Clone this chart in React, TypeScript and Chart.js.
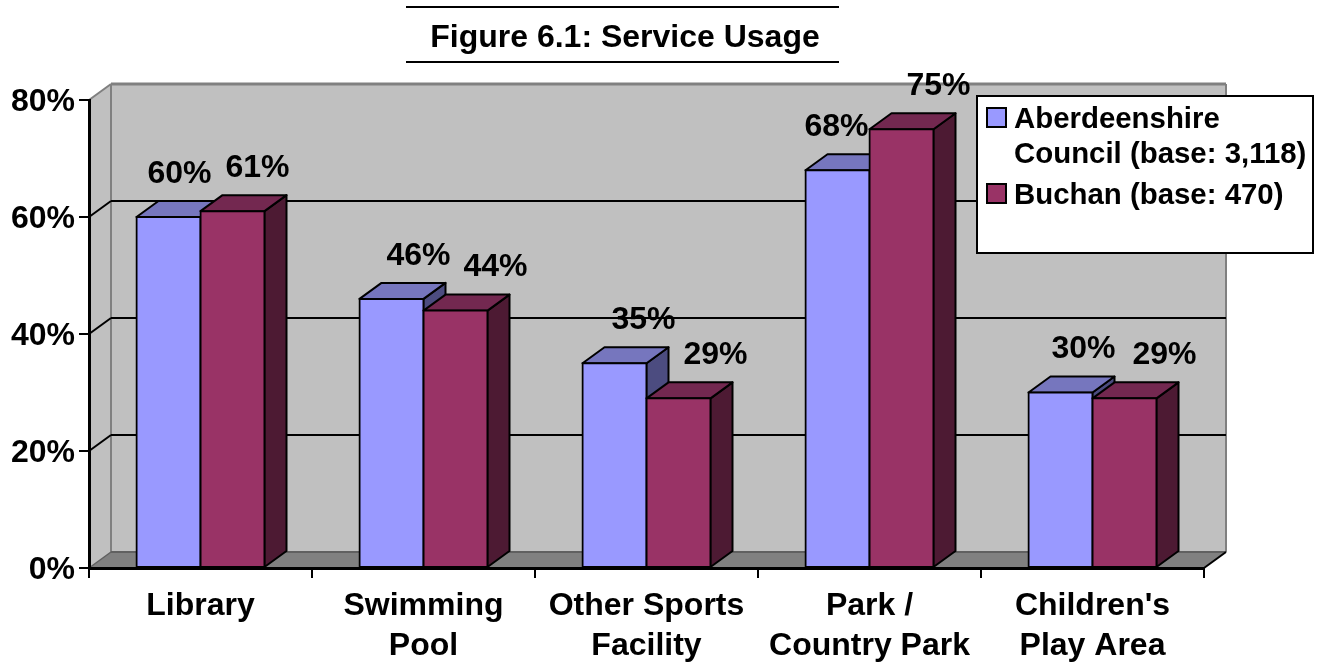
import React, { useEffect, useRef } from "react";
import { Chart, registerables } from "chart.js";

Chart.register(...registerables);

const categories = [
  ["Library"],
  ["Swimming", "Pool"],
  ["Other Sports", "Facility"],
  ["Park /", "Country Park"],
  ["Children's", "Play Area"],
];
const aberdeenshire = [60, 46, 35, 68, 30];
const buchan = [61, 44, 29, 75, 29];
const aberdeenshireLabel = ["Aberdeenshire", "Council (base: 3,118)"];
const buchanLabel = ["Buchan (base: 470)"];
const titleText = "Figure 6.1: Service Usage";
const yTicks = [0, 20, 40, 60, 80];

const FONT = '"Liberation Sans", Arial, sans-serif';
const DX = 22;
const DY = -16;
// hand placed horizontal nudges of the value labels, as in the original
const labelNudge = [
  [11, 27, 29, -1, 23],
  [25, 40, 37, 37, 40],
];
const shade = [
  { top: "#7676BE", side: "#4C4C80" },
  { top: "#732850", side: "#4D1A33" },
];

function poly(ctx: CanvasRenderingContext2D, pts: number[][], fill?: string, stroke?: string, lw = 2) {
  ctx.beginPath();
  pts.forEach((p, i) => (i ? ctx.lineTo(p[0], p[1]) : ctx.moveTo(p[0], p[1])));
  ctx.closePath();
  if (fill) {
    ctx.fillStyle = fill;
    ctx.fill();
  }
  if (stroke) {
    ctx.strokeStyle = stroke;
    ctx.lineWidth = lw;
    ctx.stroke();
  }
}
function seg(ctx: CanvasRenderingContext2D, x1: number, y1: number, x2: number, y2: number, color: string, lw = 2) {
  ctx.beginPath();
  ctx.moveTo(x1, y1);
  ctx.lineTo(x2, y2);
  ctx.strokeStyle = color;
  ctx.lineWidth = lw;
  ctx.stroke();
}

const threeD = {
  id: "threeD",
  beforeDraw(chart: any) {
    const { ctx, chartArea: a, scales } = chart;
    const { left: l, right: r, top: t, bottom: b } = a;
    ctx.save();
    ctx.lineJoin = "round";
    // walls and floor
    poly(ctx, [[l, b], [l + DX, b + DY], [l + DX, t + DY], [l, t]], "#C0C0C0");
    poly(ctx, [[l + DX, t + DY], [r + DX, t + DY], [r + DX, b + DY], [l + DX, b + DY]], "#C0C0C0");
    poly(ctx, [[l, b], [l + DX, b + DY], [r + DX, b + DY], [r, b]], "#808080");
    // wall outline
    seg(ctx, l, t, l + DX, t + DY, "#808080", 2);
    seg(ctx, l + DX, t + DY, r + DX, t + DY, "#808080", 3);
    seg(ctx, l + DX, t + DY, l + DX, b + DY, "#808080", 2);
    seg(ctx, r + DX, t + DY, r + DX, b + DY, "#808080", 2);
    seg(ctx, l + DX, b + DY, r + DX, b + DY, "#606060", 2);
    seg(ctx, l, b, l + DX, b + DY, "#606060", 1.5);
    seg(ctx, r, b, r + DX, b + DY, "#000000", 2);
    // gridlines carried across the side wall and the back wall
    yTicks.slice(1, -1).forEach((v) => {
      const y = scales.y.getPixelForValue(v);
      seg(ctx, l, y, l + DX, y + DY, "#000000", 2);
      seg(ctx, l + DX, y + DY, r + DX, y + DY, "#000000", 2);
    });
    ctx.restore();
  },
  // Series are painted left to right, each with its side and top faces first,
  // so that the right bar of a pair covers the side of the left bar.
  beforeDatasetsDraw(chart: any) {
    const { ctx } = chart;
    chart.data.datasets.forEach((_: any, index: number) => {
      const meta = chart.getDatasetMeta(index);
      const colors = shade[index];
      ctx.save();
      ctx.lineJoin = "round";
      meta.data.forEach((bar: any) => {
        const { x, y, width, base } = bar.getProps(["x", "y", "width", "base"], true);
        const x0 = x - width / 2;
        const x1 = x + width / 2;
        poly(ctx, [[x1, y], [x1 + DX, y + DY], [x1 + DX, base + DY], [x1, base]], colors.side, "#000000");
        poly(ctx, [[x0, y], [x0 + DX, y + DY], [x1 + DX, y + DY], [x1, y]], colors.top, "#000000");
      });
      ctx.restore();
      meta.controller.draw();
    });
  },
  beforeDatasetDraw() {
    return false;
  },
  afterDatasetsDraw(chart: any) {
    const { ctx } = chart;
    ctx.save();
    ctx.fillStyle = "#000000";
    ctx.textAlign = "center";
    ctx.textBaseline = "middle";
    ctx.font = `bold 32px ${FONT}`;
    chart.data.datasets.forEach((ds: any, i: number) => {
      chart.getDatasetMeta(i).data.forEach((bar: any, j: number) => {
        ctx.fillText(`${ds.data[j]}%`, bar.x + labelNudge[i][j], bar.y - 43);
      });
    });
    ctx.restore();
  },
  afterDraw(chart: any) {
    const { ctx } = chart;
    ctx.save();
    // title with its rules
    seg(ctx, 406, 7, 839, 7, "#000000", 2);
    seg(ctx, 406, 62, 839, 62, "#000000", 2);
    ctx.fillStyle = "#000000";
    ctx.font = `bold 32px ${FONT}`;
    ctx.textAlign = "center";
    ctx.textBaseline = "middle";
    ctx.fillText(titleText, 625, 38);
    // legend
    ctx.fillStyle = "#FFFFFF";
    ctx.fillRect(977, 96, 336, 157);
    ctx.strokeStyle = "#000000";
    ctx.lineWidth = 2;
    ctx.strokeRect(977, 96, 336, 157);
    ctx.fillStyle = chart.data.datasets[0].backgroundColor;
    ctx.fillRect(987, 108, 19, 19);
    ctx.strokeRect(987, 108, 19, 19);
    ctx.fillStyle = chart.data.datasets[1].backgroundColor;
    ctx.fillRect(987, 184, 19, 19);
    ctx.strokeRect(987, 184, 19, 19);
    ctx.fillStyle = "#000000";
    ctx.textAlign = "left";
    ctx.font = `bold 29.4px ${FONT}`;
    ctx.fillText(aberdeenshireLabel[0], 1014, 120);
    ctx.fillText(aberdeenshireLabel[1], 1014, 155);
    ctx.fillText(buchanLabel[0], 1014, 196);
    ctx.restore();
  },
};

export default function App() {
  const ref = useRef<HTMLCanvasElement>(null);
  useEffect(() => {
    document.body.style.margin = "0";
    const barStyle = {
      borderColor: "#000000",
      borderWidth: 2,
      borderSkipped: false,
      inflateAmount: 1,
      categoryPercentage: 0.574,
      barPercentage: 1,
    };
    const chart = new Chart(ref.current!, {
      type: "bar",
      data: {
        labels: categories,
        datasets: [
          { label: aberdeenshireLabel.join(" "), data: aberdeenshire, backgroundColor: "#9999FF", ...barStyle },
          { label: buchanLabel.join(" "), data: buchan, backgroundColor: "#993366", ...barStyle },
        ],
      },
      options: {
        animation: false,
        responsive: false,
        layout: { padding: { top: 100, right: 122, left: 0, bottom: 0 } },
        plugins: { legend: { display: false }, title: { display: false }, tooltip: { enabled: false } },
        scales: {
          x: {
            afterFit: (s: any) => {
              s.height = 94;
            },
            grid: { drawOnChartArea: false, tickLength: 10, tickColor: "#000000", lineWidth: 2 },
            border: { color: "#000000", width: 3 },
            ticks: {
              color: "#000000",
              padding: 8,
              maxRotation: 0,
              autoSkip: false,
              font: { family: FONT, size: 32, weight: "bold", lineHeight: 1.25 },
            },
          },
          y: {
            min: 0,
            max: 80,
            afterFit: (s: any) => {
              s.width = 89;
            },
            grid: { drawOnChartArea: false, tickLength: 10, tickColor: "#000000", lineWidth: 2 },
            border: { color: "#000000", width: 3 },
            ticks: {
              color: "#000000",
              padding: 4,
              stepSize: 20,
              labelOffset: 2,
              callback: (v: any) => `${v}%`,
              font: { family: FONT, size: 32, weight: "bold" },
            },
          },
        },
      } as any,
      plugins: [threeD],
    });
    return () => chart.destroy();
  }, []);
  return (
    <div style={{ position: "absolute", left: 0, top: 0, width: 1326, height: 662, background: "#FFFFFF" }}>
      <canvas ref={ref} width={1326} height={662} style={{ display: "block" }} />
    </div>
  );
}
